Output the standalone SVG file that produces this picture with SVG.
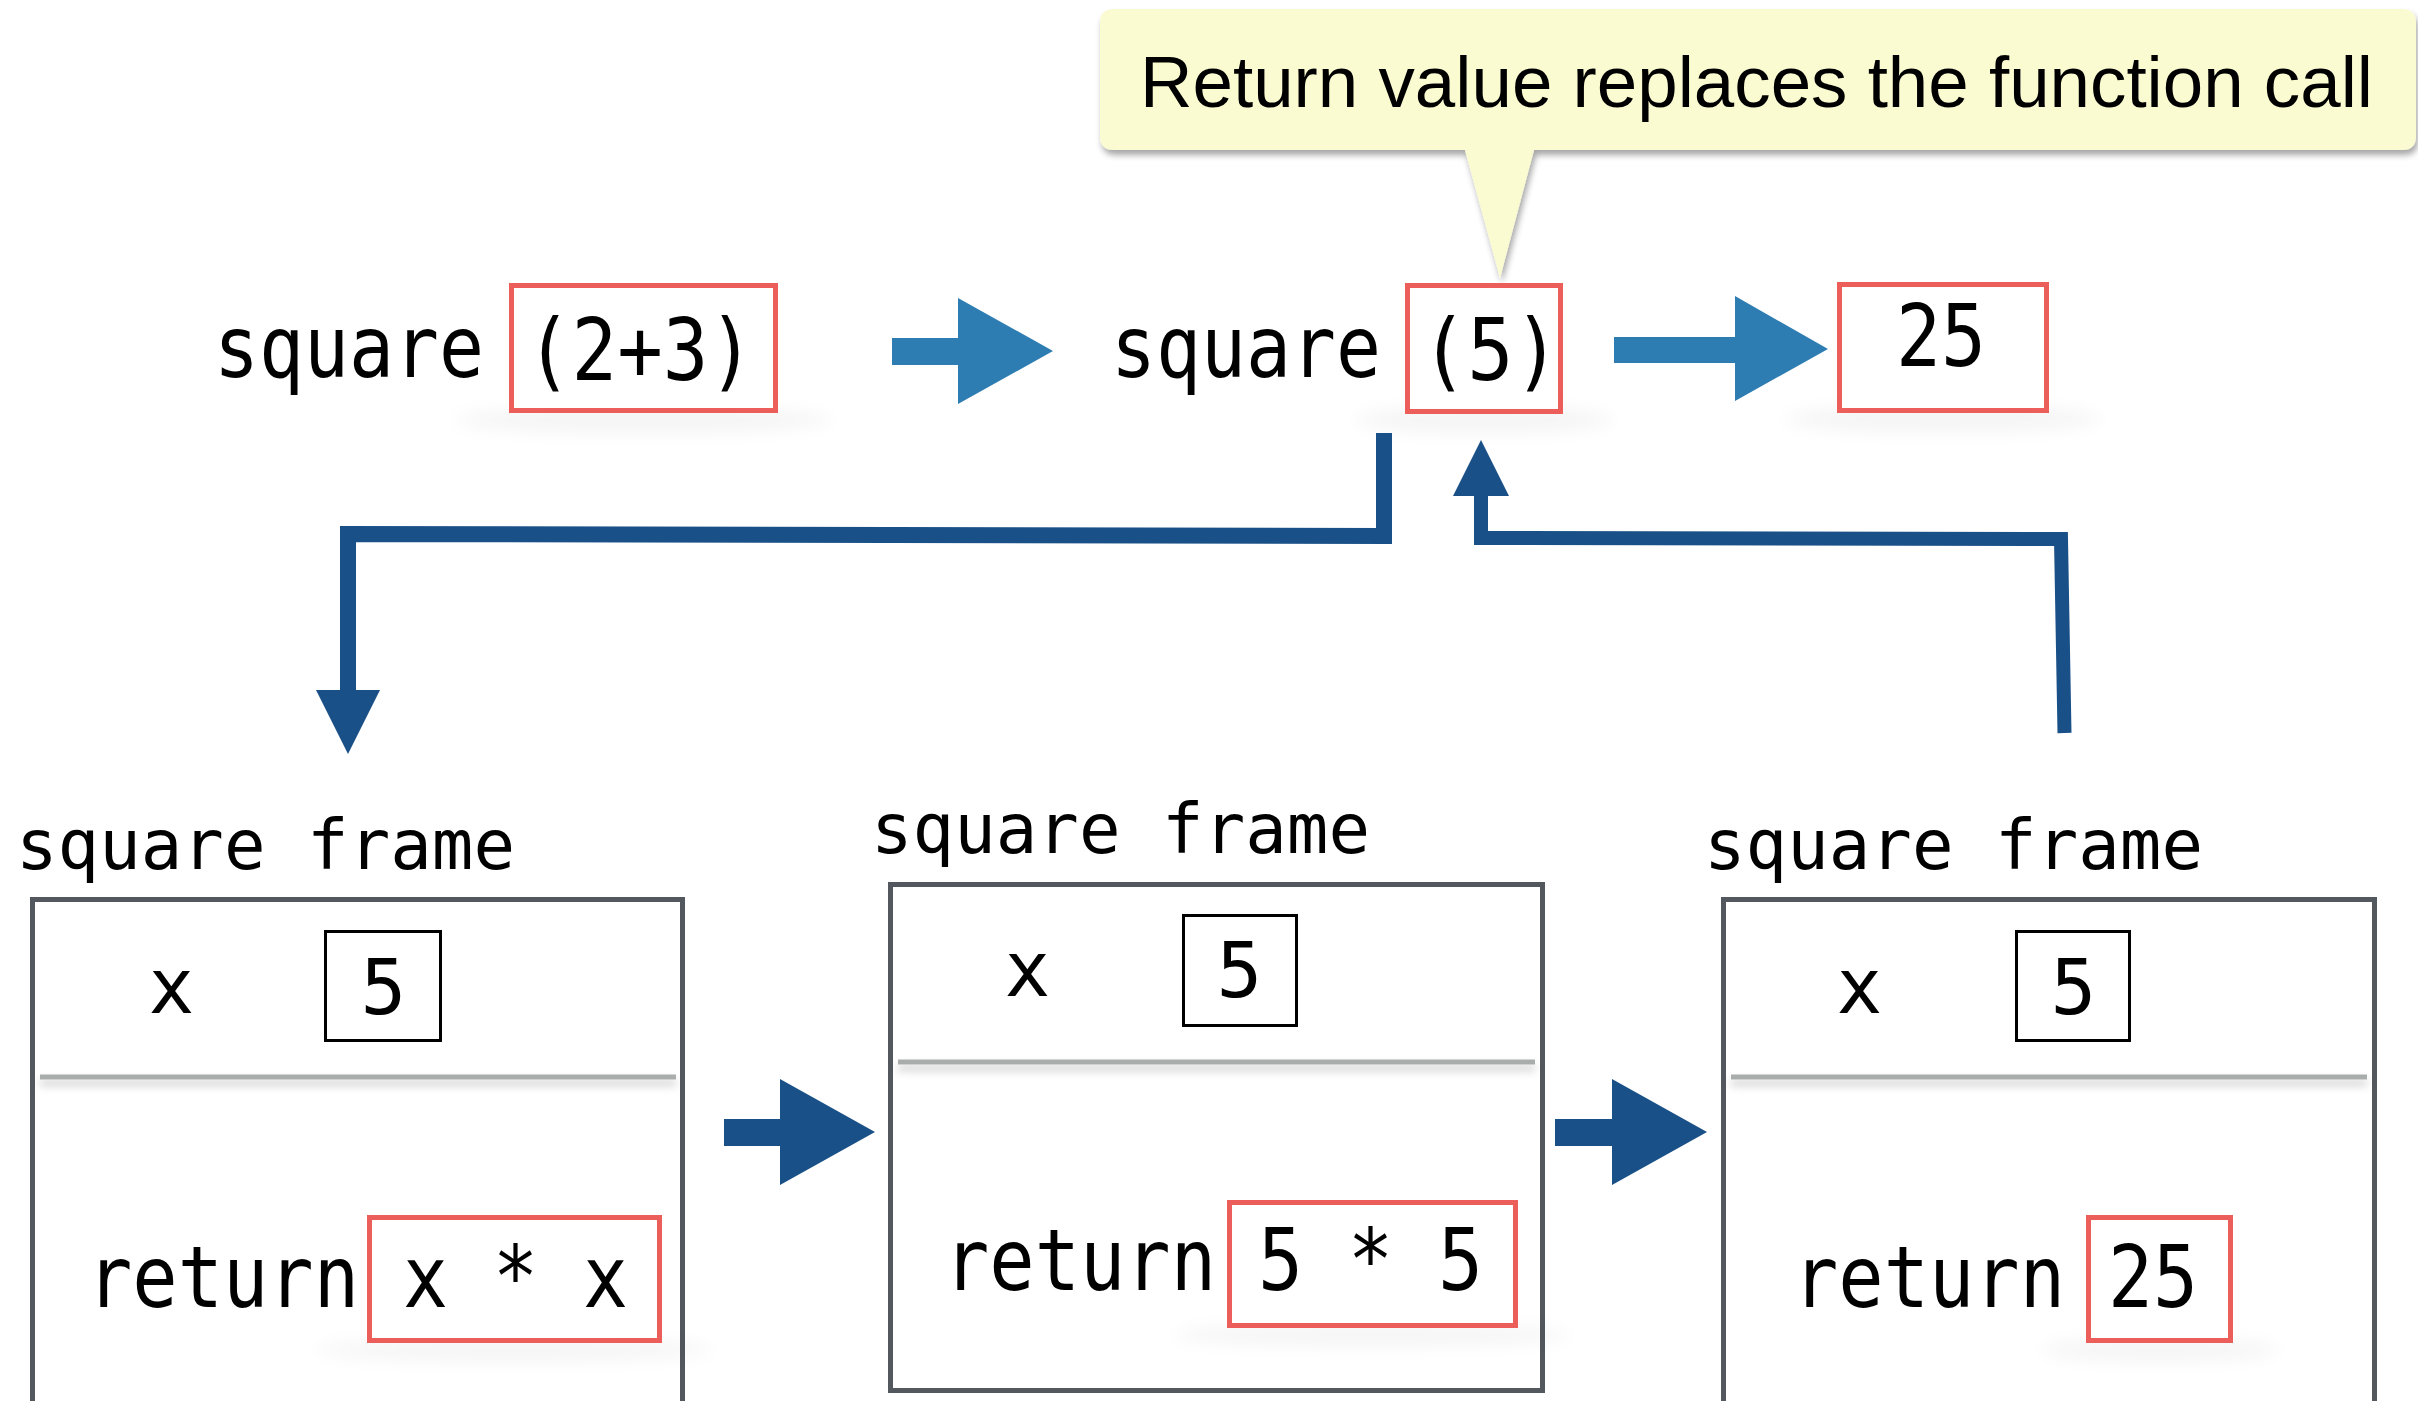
<svg xmlns="http://www.w3.org/2000/svg" width="2418" height="1401" viewBox="0 0 2418 1401">
  <style>
    .mono { font-family: "DejaVu Sans Mono", "Liberation Mono", monospace; fill: #000; }
    .code { font-size: 86px; }
    .label { font-size: 69px; }
    .var { font-size: 76px; }
    .red { fill: #fff; stroke: #ec5e59; stroke-width: 5; }
    .box { fill: #fff; stroke: #000; stroke-width: 3; }
    .frame { fill: #fff; stroke: #53585f; stroke-width: 5; }
    .divider { fill: #a9adac; filter: url(#divshadow); }
    .shadow { fill: #000; opacity: 0.04; filter: url(#blur); }
    .arrowTop { fill: #2d7db3; }
    .arrowBot { fill: #195087; }
    .conn { fill: none; stroke: #195087; stroke-linejoin: miter; stroke-linecap: butt; }
    .callout-text { font-family: "Liberation Sans", Arial, sans-serif; font-size: 73px; fill: #000; }
  </style>
  <defs>
    <filter id="blur" filterUnits="userSpaceOnUse" x="0" y="0" width="2418" height="1401">
      <feGaussianBlur stdDeviation="9"/>
    </filter>
    <filter id="divshadow" filterUnits="userSpaceOnUse" x="0" y="0" width="2418" height="1401">
      <feDropShadow dx="0" dy="6" stdDeviation="4" flood-color="#000" flood-opacity="0.22"/>
    </filter>
    <filter id="callshadow" x="-5%" y="-20%" width="110%" height="140%">
      <feDropShadow dx="2" dy="5" stdDeviation="3" flood-color="#000" flood-opacity="0.35"/>
    </filter>
    <marker id="head" viewBox="0 0 4 4" refX="0" refY="2" markerWidth="4" markerHeight="4" orient="auto" markerUnits="strokeWidth">
      <path d="M0,0 L4,2 L0,4 Z" fill="#195087"/>
    </marker>
  </defs>

  <rect x="0" y="0" width="2418" height="1401" fill="#fff"/>

  <!-- callout -->
  <g id="callout">
    <path d="M1114,9 H2402 Q2416,9 2416,23 V136 Q2416,150 2402,150 H1534 L1500,278 L1465,150 H1114 Q1100,150 1100,136 V23 Q1100,9 1114,9 Z" fill="#fbfbd2" filter="url(#callshadow)"/>
    <text class="callout-text" x="1140" y="107" textLength="1233" lengthAdjust="spacingAndGlyphs">Return value replaces the function call</text>
  </g>

  <!-- top row -->
  <g id="expr1">
    <ellipse class="shadow" cx="643" cy="420" rx="190" ry="14"/>
    <text class="mono code" x="214" y="377" textLength="270" lengthAdjust="spacingAndGlyphs">square</text>
    <rect class="red" x="511.5" y="285.5" width="264" height="125"/>
    <text class="mono code" x="526" y="380" textLength="228" lengthAdjust="spacingAndGlyphs">(2+3)</text>
  </g>

  <g id="expr2">
    <ellipse class="shadow" cx="1484" cy="420" rx="130" ry="14"/>
    <text class="mono code" x="1111" y="377" textLength="270" lengthAdjust="spacingAndGlyphs">square</text>
    <rect class="red" x="1407.5" y="285.5" width="153" height="126"/>
    <text class="mono code" x="1421" y="380" textLength="139" lengthAdjust="spacingAndGlyphs">(5)</text>
  </g>

  <g id="result">
    <ellipse class="shadow" cx="1943" cy="419" rx="160" ry="14"/>
    <rect class="red" x="1839.5" y="284.5" width="207" height="126"/>
    <text class="mono code" x="1896" y="366" textLength="90" lengthAdjust="spacingAndGlyphs">25</text>
  </g>

  <!-- frame 1 -->
  <g id="frame1">
    <text class="mono label" x="16" y="869" textLength="499" lengthAdjust="spacingAndGlyphs">square frame</text>
    <rect class="frame" x="32.5" y="899.5" width="650" height="520"/>
    <text class="mono var" x="171.5" y="1013" text-anchor="middle">x</text>
    <rect class="box" x="325.5" y="931.5" width="115" height="109"/>
    <text class="mono var" x="383.5" y="1014" text-anchor="middle">5</text>
    <rect class="divider" x="40" y="1074.5" width="636" height="5"/>
    <text class="mono code" x="87" y="1307" textLength="272" lengthAdjust="spacingAndGlyphs">return</text>
    <ellipse class="shadow" cx="514" cy="1350" rx="200" ry="12"/>
    <rect class="red" x="369.5" y="1217.5" width="290" height="123"/>
    <text class="mono code" x="403" y="1307" textLength="225" lengthAdjust="spacingAndGlyphs">x * x</text>
  </g>

  <!-- frame 2 -->
  <g id="frame2">
    <text class="mono label" x="871" y="853" textLength="499" lengthAdjust="spacingAndGlyphs">square frame</text>
    <rect class="frame" x="890.5" y="884.5" width="652" height="506"/>
    <text class="mono var" x="1027.5" y="996" text-anchor="middle">x</text>
    <rect class="box" x="1183.5" y="915.5" width="113" height="110"/>
    <text class="mono var" x="1239.5" y="997" text-anchor="middle">5</text>
    <rect class="divider" x="898" y="1059.5" width="637" height="5"/>
    <text class="mono code" x="944" y="1290" textLength="272" lengthAdjust="spacingAndGlyphs">return</text>
    <ellipse class="shadow" cx="1372" cy="1335" rx="200" ry="12"/>
    <rect class="red" x="1229.5" y="1202.5" width="286" height="123"/>
    <text class="mono code" x="1258" y="1290" textLength="225" lengthAdjust="spacingAndGlyphs">5 * 5</text>
  </g>

  <!-- frame 3 -->
  <g id="frame3">
    <text class="mono label" x="1704" y="869" textLength="499" lengthAdjust="spacingAndGlyphs">square frame</text>
    <rect class="frame" x="1723.5" y="899.5" width="651" height="520"/>
    <text class="mono var" x="1859.5" y="1013" text-anchor="middle">x</text>
    <rect class="box" x="2016.5" y="931.5" width="113" height="109"/>
    <text class="mono var" x="2073.5" y="1014" text-anchor="middle">5</text>
    <rect class="divider" x="1731" y="1074.5" width="636" height="5"/>
    <text class="mono code" x="1793" y="1307" textLength="272" lengthAdjust="spacingAndGlyphs">return</text>
    <ellipse class="shadow" cx="2160" cy="1350" rx="120" ry="12"/>
    <rect class="red" x="2088.5" y="1217.5" width="142" height="123"/>
    <text class="mono code" x="2108" y="1307" textLength="90" lengthAdjust="spacingAndGlyphs">25</text>
  </g>

  <!-- connectors -->
  <g id="connectors">
    <polygon class="arrowTop" points="892,338 958,338 958,298 1053,351 958,404 958,365 892,365"/>
    <polygon class="arrowTop" points="1614,337 1735,337 1735,296 1828,349 1735,401 1735,363 1614,363"/>
    <polygon class="arrowBot" points="724,1119 780,1119 780,1079 875,1132 780,1185 780,1146 724,1146"/>
    <polygon class="arrowBot" points="1555,1119 1612,1119 1612,1079 1707,1132 1612,1185 1612,1146 1555,1146"/>
    <polyline class="conn" stroke-width="16" points="1384,433 1384,536 348,534 348,690" marker-end="url(#head)"/>
    <polyline class="conn" stroke-width="14" points="2064.5,733 2061,539 1481,538 1481,496" marker-end="url(#head)"/>
  </g>
</svg>
